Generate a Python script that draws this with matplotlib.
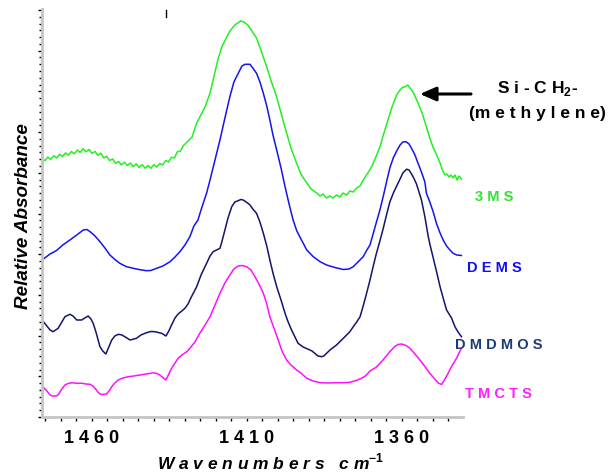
import matplotlib
matplotlib.use("Agg")
import matplotlib.pyplot as plt
from matplotlib.lines import Line2D
from matplotlib.ticker import MultipleLocator, FixedLocator, FixedFormatter

plt.rcParams['font.family'] = ['Liberation Sans', 'DejaVu Sans']
plt.rcParams['mathtext.fontset'] = 'custom'
plt.rcParams['mathtext.rm'] = 'Liberation Sans:bold'
plt.rcParams['mathtext.bf'] = 'Liberation Sans:bold'

# 3MS (green, noisy)
wn_3ms = [1476.1, 1475.2, 1474.2, 1473.3, 1472.3, 1471.4, 1470.4, 1469.5, 1468.5, 1467.6,
          1466.6, 1465.7, 1464.7, 1463.8, 1462.8, 1461.9, 1460.9, 1460.0, 1459.0, 1458.1,
          1457.1, 1456.2, 1455.2, 1454.3, 1453.3, 1452.4, 1451.4, 1450.5, 1449.5, 1448.6,
          1447.6, 1446.7, 1445.7, 1444.8, 1443.8, 1442.9, 1441.9, 1441.0, 1440.0, 1439.1,
          1438.1, 1437.2, 1436.2, 1435.3, 1434.3, 1433.4, 1432.4, 1431.5, 1430.6, 1427.7,
          1426.2, 1423.5, 1421.9, 1420.9, 1419.4, 1418.1, 1416.5, 1415.5, 1413.9, 1412.0,
          1411.0, 1409.7, 1408.4, 1406.9, 1405.5, 1403.6, 1402.3, 1400.4, 1399.0, 1397.2,
          1395.8, 1394.0, 1392.6, 1390.7, 1389.3, 1387.5, 1386.4, 1385.5, 1384.3, 1383.2,
          1382.3, 1381.1, 1380.0, 1379.0, 1377.8, 1376.8, 1375.7, 1374.6, 1373.5, 1372.5,
          1371.4, 1369.8, 1368.4, 1367.1, 1365.8, 1364.5, 1363.2, 1361.7, 1360.6, 1359.7,
          1359.0, 1358.1, 1357.4, 1356.4, 1354.8, 1353.5, 1352.1, 1351.0, 1350.0, 1348.8,
          1347.7, 1346.8, 1346.1, 1345.5, 1344.8, 1344.2, 1343.5, 1342.9, 1342.2, 1341.6,
          1340.8]
abs_3ms = [2.585, 2.562, 2.599, 2.576, 2.613, 2.590, 2.627, 2.604, 2.641, 2.618,
           2.655, 2.632, 2.669, 2.646, 2.683, 2.653, 2.675, 2.636, 2.656, 2.617,
           2.637, 2.591, 2.607, 2.564, 2.580, 2.537, 2.555, 2.521, 2.548, 2.514,
           2.540, 2.505, 2.531, 2.497, 2.523, 2.489, 2.515, 2.487, 2.523, 2.499,
           2.535, 2.520, 2.565, 2.551, 2.597, 2.590, 2.655, 2.655, 2.71, 2.80,
           2.94, 3.10, 3.24, 3.37, 3.57, 3.70, 3.80, 3.86, 3.92, 3.96,
           3.95, 3.92, 3.86, 3.79, 3.67, 3.50, 3.37, 3.20, 3.04, 2.84,
           2.69, 2.54, 2.43, 2.34, 2.28, 2.24, 2.21, 2.23, 2.19, 2.21,
           2.19, 2.22, 2.20, 2.24, 2.22, 2.26, 2.25, 2.29, 2.31, 2.37,
           2.42, 2.50, 2.60, 2.70, 2.84, 2.97, 3.10, 3.22, 3.27, 3.30,
           3.30, 3.32, 3.29, 3.25, 3.14, 3.04, 2.90, 2.79, 2.70, 2.62,
           2.54, 2.46, 2.42, 2.43, 2.40, 2.42, 2.39, 2.42, 2.37, 2.41,
           2.38]

# DEMS (blue)
wn_dems = [1476.1, 1473.5, 1471.4, 1469.4, 1467.1, 1464.9, 1462.8, 1461.6, 1460.6, 1459.0,
           1457.4, 1455.8, 1454.2, 1452.6, 1451.0, 1449.0, 1446.7, 1444.5, 1442.4, 1441.0,
           1439.1, 1437.1, 1434.8, 1433.2, 1431.6, 1430.0, 1428.4, 1427.1, 1425.8, 1424.5,
           1423.0, 1421.9, 1420.3, 1418.7, 1417.1, 1415.5, 1414.2, 1412.8, 1411.6, 1410.6,
           1409.0, 1408.1, 1406.9, 1405.8, 1404.7, 1403.6, 1402.6, 1401.6, 1400.4, 1399.0,
           1397.7, 1396.4, 1395.1, 1393.9, 1392.9, 1390.7, 1388.6, 1386.4, 1384.3, 1381.6,
           1378.9, 1377.1, 1375.7, 1374.2, 1372.5, 1371.3, 1370.3, 1369.3, 1368.4, 1367.1,
           1366.0, 1364.9, 1363.9, 1362.8, 1361.7, 1360.6, 1359.7, 1358.7, 1357.7, 1356.9,
           1355.8, 1354.8, 1353.7, 1352.6, 1352.1, 1351.0, 1349.9, 1348.8, 1347.7, 1346.7,
           1345.6, 1344.5, 1343.5, 1342.3, 1340.8]
abs_dems = [1.57, 1.63, 1.665, 1.72, 1.77, 1.82, 1.87, 1.875, 1.853, 1.81,
            1.753, 1.69, 1.62, 1.575, 1.537, 1.505, 1.487, 1.473, 1.463, 1.465,
            1.487, 1.51, 1.553, 1.60, 1.653, 1.72, 1.803, 1.91, 1.97, 2.10,
            2.24, 2.37, 2.57, 2.77, 2.99, 3.203, 3.35, 3.437, 3.51, 3.527,
            3.527, 3.49, 3.437, 3.35, 3.237, 3.11, 2.97, 2.82, 2.67, 2.49,
            2.303, 2.13, 1.97, 1.86, 1.80, 1.67, 1.603, 1.553, 1.52, 1.495,
            1.475, 1.48, 1.503, 1.55, 1.603, 1.67, 1.72, 1.83, 1.93, 2.07,
            2.21, 2.36, 2.49, 2.59, 2.66, 2.72, 2.75, 2.753, 2.73, 2.687,
            2.62, 2.537, 2.45, 2.35, 2.237, 2.15, 2.05, 1.93, 1.84, 1.77,
            1.71, 1.67, 1.637, 1.62, 1.615]

# DMDMOS (navy)
wn_dmdmos = [1476.1, 1474.8, 1473.5, 1472.5, 1470.9, 1469.7, 1468.7, 1467.1, 1466.1, 1464.9,
             1463.3, 1462.3, 1461.2, 1460.3, 1459.6, 1458.7, 1457.4, 1456.5, 1455.5, 1454.7,
             1453.6, 1452.6, 1451.5, 1450.3, 1449.4, 1447.7, 1445.6, 1444.2, 1442.4, 1441.0,
             1439.7, 1437.5, 1436.1, 1435.2, 1434.3, 1433.2, 1432.2, 1431.0, 1430.0, 1429.0,
             1428.1, 1426.2, 1424.8, 1423.0, 1421.9, 1420.9, 1418.7, 1418.1, 1417.1, 1416.1,
             1414.9, 1413.9, 1412.8, 1412.0, 1411.2, 1410.0, 1409.0, 1408.1, 1406.9, 1405.8,
             1404.7, 1403.6, 1402.6, 1401.6, 1400.4, 1399.0, 1397.7, 1396.7, 1395.6, 1394.5,
             1393.5, 1391.9, 1390.2, 1389.0, 1388.1, 1387.1, 1385.9, 1385.2, 1384.3, 1383.2,
             1381.1, 1378.9, 1376.8, 1375.7, 1374.6, 1373.5, 1372.5, 1371.4, 1370.3, 1369.3,
             1368.2, 1367.1, 1366.0, 1364.9, 1363.9, 1362.8, 1361.7, 1360.6, 1359.7, 1358.5,
             1357.7, 1356.9, 1356.2, 1355.3, 1354.5, 1353.7, 1352.6, 1351.5, 1351.0, 1349.9,
             1348.8, 1347.7, 1346.7, 1345.6, 1344.0, 1342.9, 1341.9, 1340.8]
abs_dmdmos = [0.97, 0.92, 0.87, 0.853, 0.887, 0.95, 1.003, 1.027, 1.01, 0.97,
              0.97, 0.99, 1.01, 0.98, 0.937, 0.85, 0.703, 0.66, 0.63, 0.69,
              0.77, 0.81, 0.827, 0.82, 0.803, 0.77, 0.787, 0.82, 0.843, 0.855,
              0.853, 0.837, 0.81, 0.86, 0.92, 0.99, 1.03, 1.06, 1.087, 1.13,
              1.19, 1.303, 1.42, 1.537, 1.61, 1.653, 1.687, 1.75, 1.87, 1.99,
              2.103, 2.15, 2.163, 2.175, 2.17, 2.145, 2.12, 2.08, 2.037, 1.95,
              1.837, 1.71, 1.57, 1.44, 1.303, 1.17, 1.037, 0.95, 0.87, 0.80,
              0.737, 0.70, 0.677, 0.66, 0.637, 0.61, 0.603, 0.61, 0.637, 0.67,
              0.72, 0.787, 0.853, 0.903, 0.95, 1.003, 1.11, 1.237, 1.37, 1.503,
              1.64, 1.76, 1.89, 2.03, 2.15, 2.237, 2.31, 2.38, 2.44, 2.478,
              2.47, 2.43, 2.39, 2.33, 2.25, 2.17, 2.003, 1.803, 1.73, 1.59,
              1.45, 1.303, 1.19, 1.07, 0.99, 0.903, 0.85, 0.803]

# TMCTS (magenta)
wn_tmcts = [1476.1, 1474.5, 1473.5, 1472.7, 1471.6, 1470.9, 1469.7, 1468.7, 1467.7, 1466.5,
            1464.9, 1463.3, 1461.9, 1460.6, 1459.7, 1459.0, 1458.1, 1457.4, 1456.5, 1455.3,
            1454.5, 1453.6, 1452.6, 1451.5, 1450.0, 1448.3, 1446.5, 1444.5, 1442.6, 1441.3,
            1440.2, 1439.0, 1438.1, 1437.1, 1436.1, 1435.2, 1434.3, 1433.2, 1432.2, 1431.0,
            1429.4, 1428.4, 1426.8, 1425.2, 1423.5, 1421.9, 1420.3, 1418.7, 1417.1, 1415.5,
            1414.2, 1412.8, 1411.6, 1410.1, 1408.7, 1407.4, 1406.1, 1404.7, 1403.6, 1402.6,
            1401.3, 1399.9, 1398.7, 1397.2, 1395.8, 1394.0, 1392.6, 1390.7, 1388.6, 1386.4,
            1383.8, 1381.1, 1378.9, 1376.8, 1374.8, 1373.0, 1371.6, 1370.3, 1368.2, 1366.1,
            1363.9, 1362.3, 1361.3, 1360.1, 1358.7, 1357.4, 1355.8, 1354.2, 1352.6, 1351.0,
            1349.4, 1348.3, 1347.2, 1346.1, 1345.1, 1343.9, 1342.4, 1340.8]
abs_tmcts = [0.31, 0.26, 0.22, 0.21, 0.21, 0.22, 0.28, 0.32, 0.335, 0.343,
             0.337, 0.337, 0.33, 0.327, 0.31, 0.287, 0.25, 0.23, 0.225, 0.23,
             0.26, 0.303, 0.34, 0.37, 0.39, 0.403, 0.41, 0.42, 0.43, 0.435,
             0.443, 0.435, 0.42, 0.395, 0.37, 0.43, 0.487, 0.54, 0.587, 0.62,
             0.653, 0.687, 0.75, 0.837, 0.92, 1.003, 1.12, 1.237, 1.34, 1.42,
             1.48, 1.51, 1.515, 1.503, 1.47, 1.403, 1.33, 1.237, 1.13, 1.003,
             0.89, 0.77, 0.66, 0.57, 0.52, 0.47, 0.44, 0.387, 0.36, 0.343,
             0.34, 0.343, 0.343, 0.347, 0.365, 0.387, 0.415, 0.46, 0.50, 0.57,
             0.653, 0.705, 0.725, 0.73, 0.715, 0.687, 0.63, 0.57, 0.505, 0.437,
             0.38, 0.34, 0.325, 0.38, 0.437, 0.51, 0.587, 0.69]

series_names = ['3 M S', 'D E M S', 'D M D M O S', 'T M C T S']
series_colors = ['#22F022', '#1414F0', '#14146E', '#FF10FF']
label_colors = ['#33E033', '#1010F0', '#1F3A78', '#FF20FF']
label_pos = [(475, 197), (467, 268), (455, 345), (465, 394)]  # pixel positions of labels

tick_wn = [1460, 1410, 1360]
tick_text = ['1 4 6 0', '1 4 1 0', '1 3 6 0']

W, H = 613, 473
fig = plt.figure(figsize=(W / 100, H / 100), dpi=100)
ax = fig.add_axes([42 / W, 1 - 417 / H, 421 / W, 407.5 / H])

data = [(wn_3ms, abs_3ms), (wn_dems, abs_dems), (wn_dmdmos, abs_dmdmos), (wn_tmcts, abs_tmcts)]
for (x, y), c in zip(data, series_colors):
    ax.plot(x, y, color=c, lw=1.1)

ax.set_xlim(1476.1, 1340.3)
ax.set_ylim(0, 4.075)

for s in ['top', 'right']:
    ax.spines[s].set_visible(False)
for s in ['left', 'bottom']:
    ax.spines[s].set_color('#C4C4C4')
    ax.spines[s].set_linewidth(2.0)

ax.xaxis.set_major_locator(FixedLocator(tick_wn))
ax.xaxis.set_major_formatter(FixedFormatter(tick_text))
ax.xaxis.set_minor_locator(MultipleLocator(5))
ax.yaxis.set_major_locator(MultipleLocator(0.407))
ax.yaxis.set_minor_locator(MultipleLocator(0.407 / 6))
ax.set_yticklabels([])
ax.tick_params(axis='x', which='both', direction='out', length=3, width=1, color='black', pad=6)
ax.tick_params(axis='y', which='major', direction='out', length=3, width=1, color='black')
ax.tick_params(axis='y', which='minor', direction='out', length=2, width=1, color='black')
for lab in ax.get_xticklabels():
    lab.set_fontsize(13)
    lab.set_fontweight('bold')

for name, c, (px, py) in zip(series_names, label_colors, label_pos):
    fig.text(px / W, 1 - py / H, name, color=c, fontsize=10.5, fontweight='bold',
             ha='left', va='center')

fig.text(23.5 / W, 1 - 216 / H, 'Relative Absorbance', rotation=90, fontsize=13.6,
         fontweight='bold', fontstyle='italic', ha='center', va='center')
fig.text(271 / W, 1 - 462 / H, 'W a v e n u m b e r s   c m$^{-1}$', fontsize=12.5,
         fontweight='bold', fontstyle='italic', ha='center', va='center')

fig.text(538 / W, 1 - 89 / H, 'S i - C H$_{2}$-', fontsize=12.5, fontweight='bold',
         ha='center', va='center')
fig.text(537 / W, 1 - 113 / H, '(m e t h y l e n e)', fontsize=12.5, fontweight='bold',
         ha='center', va='center')
ax.annotate('', xy=(1354.2, 3.23), xycoords='data',
            xytext=(471 / W, 1 - 94 / H), textcoords='figure fraction',
            annotation_clip=False,
            arrowprops=dict(arrowstyle='-|>,head_length=0.8,head_width=0.35',
                            mutation_scale=12, lw=2.2, color='black',
                            shrinkA=0, shrinkB=0))

fig.add_artist(Line2D([166 / W, 166 / W], [1 - 10 / H, 1 - 17 / H], color='black', lw=1))

fig.savefig('out.png', dpi=100)
